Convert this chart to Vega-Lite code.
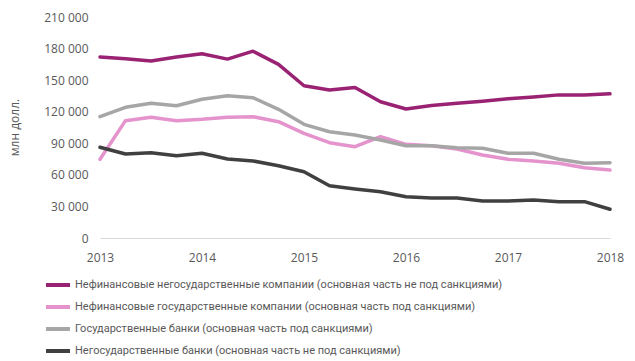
{
  "$schema": "https://vega.github.io/schema/vega-lite/v6.json",
  "width": 510,
  "height": 221,
  "autosize": "none",
  "padding": {"left": 100, "top": 17, "right": 25, "bottom": 123},
  "background": "white",
  "config": {
    "view": {"stroke": null},
    "font": "Open Sans",
    "axis": {"labelColor": "#595959", "titleColor": "#595959", "labelFont": "Open Sans", "titleFont": "Open Sans"}
  },
  "datasets": {
    "d": [
      {"t": 2013.0, "s": "A", "v": 172000}, {"t": 2013.25, "s": "A", "v": 170400}, {"t": 2013.5, "s": "A", "v": 168200}, {"t": 2013.75, "s": "A", "v": 172000},
      {"t": 2014.0, "s": "A", "v": 175000}, {"t": 2014.25, "s": "A", "v": 170000}, {"t": 2014.5, "s": "A", "v": 177500}, {"t": 2014.75, "s": "A", "v": 165000},
      {"t": 2015.0, "s": "A", "v": 144700}, {"t": 2015.25, "s": "A", "v": 140600}, {"t": 2015.5, "s": "A", "v": 143000}, {"t": 2015.75, "s": "A", "v": 129500},
      {"t": 2016.0, "s": "A", "v": 122600}, {"t": 2016.25, "s": "A", "v": 126000}, {"t": 2016.5, "s": "A", "v": 128000}, {"t": 2016.75, "s": "A", "v": 130000},
      {"t": 2017.0, "s": "A", "v": 132400}, {"t": 2017.25, "s": "A", "v": 134000}, {"t": 2017.5, "s": "A", "v": 136000}, {"t": 2017.75, "s": "A", "v": 135800},
      {"t": 2018.0, "s": "A", "v": 137000},

      {"t": 2013.0, "s": "B", "v": 74800}, {"t": 2013.25, "s": "B", "v": 111500}, {"t": 2013.5, "s": "B", "v": 114700}, {"t": 2013.75, "s": "B", "v": 111500},
      {"t": 2014.0, "s": "B", "v": 112800}, {"t": 2014.25, "s": "B", "v": 114700}, {"t": 2014.5, "s": "B", "v": 115300}, {"t": 2014.75, "s": "B", "v": 110500},
      {"t": 2015.0, "s": "B", "v": 99500}, {"t": 2015.25, "s": "B", "v": 90600}, {"t": 2015.5, "s": "B", "v": 86800}, {"t": 2015.75, "s": "B", "v": 96300},
      {"t": 2016.0, "s": "B", "v": 89000}, {"t": 2016.25, "s": "B", "v": 87700}, {"t": 2016.5, "s": "B", "v": 84600}, {"t": 2016.75, "s": "B", "v": 78900},
      {"t": 2017.0, "s": "B", "v": 74800}, {"t": 2017.25, "s": "B", "v": 73200}, {"t": 2017.5, "s": "B", "v": 71000}, {"t": 2017.75, "s": "B", "v": 66800},
      {"t": 2018.0, "s": "B", "v": 64600},

      {"t": 2013.0, "s": "C", "v": 115300}, {"t": 2013.25, "s": "C", "v": 124200}, {"t": 2013.5, "s": "C", "v": 128000}, {"t": 2013.75, "s": "C", "v": 125700},
      {"t": 2014.0, "s": "C", "v": 131800}, {"t": 2014.25, "s": "C", "v": 135200}, {"t": 2014.5, "s": "C", "v": 133300}, {"t": 2014.75, "s": "C", "v": 122300},
      {"t": 2015.0, "s": "C", "v": 108000}, {"t": 2015.25, "s": "C", "v": 101000}, {"t": 2015.5, "s": "C", "v": 97900}, {"t": 2015.75, "s": "C", "v": 93100},
      {"t": 2016.0, "s": "C", "v": 87700}, {"t": 2016.25, "s": "C", "v": 87700}, {"t": 2016.5, "s": "C", "v": 85800}, {"t": 2016.75, "s": "C", "v": 85200},
      {"t": 2017.0, "s": "C", "v": 80500}, {"t": 2017.25, "s": "C", "v": 80500}, {"t": 2017.5, "s": "C", "v": 74800}, {"t": 2017.75, "s": "C", "v": 71000},
      {"t": 2018.0, "s": "C", "v": 71600},

      {"t": 2013.0, "s": "D", "v": 86200}, {"t": 2013.25, "s": "D", "v": 79800}, {"t": 2013.5, "s": "D", "v": 81000}, {"t": 2013.75, "s": "D", "v": 78200},
      {"t": 2014.0, "s": "D", "v": 80500}, {"t": 2014.25, "s": "D", "v": 75100}, {"t": 2014.5, "s": "D", "v": 73200}, {"t": 2014.75, "s": "D", "v": 68700},
      {"t": 2015.0, "s": "D", "v": 63000}, {"t": 2015.25, "s": "D", "v": 49700}, {"t": 2015.5, "s": "D", "v": 46600}, {"t": 2015.75, "s": "D", "v": 44000},
      {"t": 2016.0, "s": "D", "v": 39200}, {"t": 2016.25, "s": "D", "v": 38000}, {"t": 2016.5, "s": "D", "v": 38000}, {"t": 2016.75, "s": "D", "v": 35200},
      {"t": 2017.0, "s": "D", "v": 35200}, {"t": 2017.25, "s": "D", "v": 36100}, {"t": 2017.5, "s": "D", "v": 34500}, {"t": 2017.75, "s": "D", "v": 34500},
      {"t": 2018.0, "s": "D", "v": 27300}
    ],
    "names": [
      {"s": "A", "name": "Нефинансовые негосударственные компании (основная часть не под санкциями)"},
      {"s": "B", "name": "Нефинансовые государственные компании (основная часть под санкциями)"},
      {"s": "C", "name": "Государственные банки (основная часть под санкциями)"},
      {"s": "D", "name": "Негосударственные банки (основная часть не под санкциями)"}
    ]
  },
  "data": {"name": "d"},
  "transform": [
    {"lookup": "s", "from": {"data": {"name": "names"}, "key": "s", "fields": ["name"]}}
  ],
  "mark": {"type": "line", "strokeWidth": 3.5, "strokeCap": "round", "strokeJoin": "round"},
  "encoding": {
    "x": {
      "field": "t", "type": "quantitative",
      "scale": {"domain": [2013, 2018], "nice": false, "zero": false},
      "axis": {
        "values": [2013, 2014, 2015, 2016, 2017, 2018],
        "format": "d", "title": null, "grid": false, "ticks": false,
        "domainColor": "#d9d9d9", "domainWidth": 1,
        "labelFontSize": 12, "labelPadding": 14, "labelFlush": false
      }
    },
    "y": {
      "field": "v", "type": "quantitative",
      "scale": {"domain": [0, 210000], "nice": false},
      "axis": {
        "values": [0, 30000, 60000, 90000, 120000, 150000, 180000, 210000],
        "labelExpr": "replace(format(datum.value, ','), ',', ' ')",
        "title": "млн долл.", "titleFontSize": 12, "titleFontWeight": "normal",
        "titleX": -86, "titleY": 110, "titleAngle": -90, "titleAlign": "center", "titleBaseline": "middle",
        "grid": false, "ticks": false, "domain": false,
        "labelFontSize": 12, "labelPadding": 12
      }
    },
    "color": {
      "field": "name", "type": "nominal",
      "scale": {
        "domain": [
          "Нефинансовые негосударственные компании (основная часть не под санкциями)",
          "Нефинансовые государственные компании (основная часть под санкциями)",
          "Государственные банки (основная часть под санкциями)",
          "Негосударственные банки (основная часть не под санкциями)"
        ],
        "range": ["#9a2273", "#e593cd", "#a6a6a6", "#404040"]
      },
      "legend": {
        "orient": "none", "legendX": -56, "legendY": 254, "direction": "vertical",
        "title": null, "symbolType": "stroke", "symbolSize": 576, "symbolStrokeWidth": 4,
        "labelFontSize": 11, "labelColor": "#595959", "labelFont": "Roboto",
        "labelOffset": 3, "rowPadding": -2, "labelLimit": 600
      }
    }
  }
}
